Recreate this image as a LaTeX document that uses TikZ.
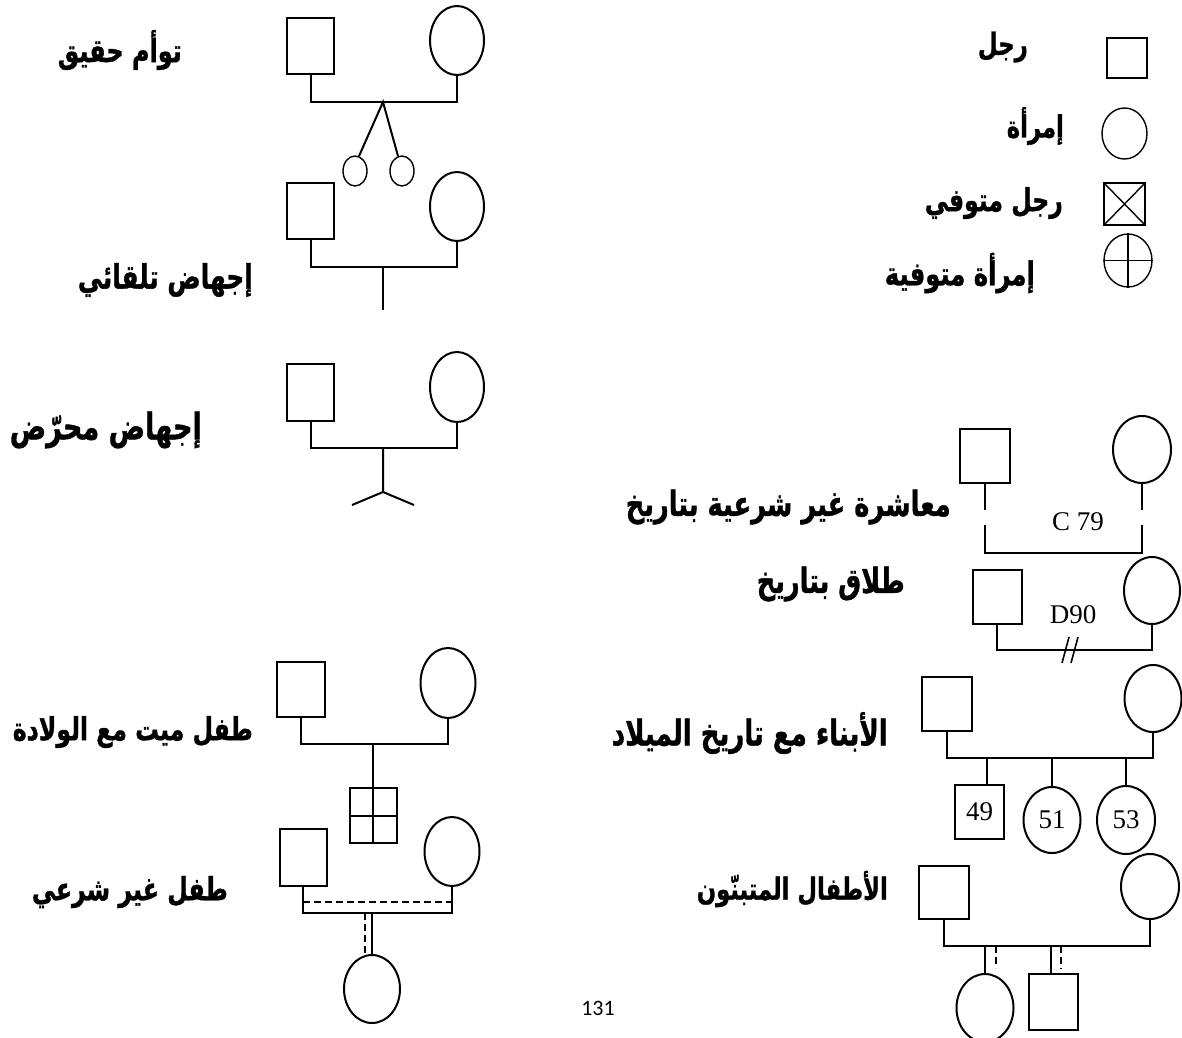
\documentclass[tikz,border=0pt]{standalone}
\usepackage{graphicx}
\usepackage{fontspec}
\setmainfont{Liberation Serif}
\newfontfamily\arabicfont[Script=Arabic, BoldFeatures={FakeBold=1.2}]{DejaVu Sans}
\newfontfamily\pagefont{Carlito}
\TeXXeTstate=1
\usetikzlibrary{shapes.geometric}
\newcommand\lbl[2]{\scalebox{1}[1.35]{\resizebox{#1pt}{!}{#2}}}
\tikzset{
  man/.style={draw, rectangle, inner sep=0pt, line width=2pt},
  woman/.style={draw, ellipse, inner sep=0pt, line width=2pt},
  thin/.style={line width=1.4pt},
  rel/.style={line width=2pt},
  dsh/.style={line width=2pt, dash pattern=on 7pt off 4pt},
  lab/.style={inner sep=0pt, anchor=east, font=\arabicfont\bfseries\fontsize{26}{30}\selectfont},
  num/.style={font=\fontsize{27}{30}\selectfont},
}
\begin{document}
\begin{tikzpicture}[x=1pt,y=-1pt]
\useasboundingbox (0,0) rectangle (1182,1037);
\clip (0,0) rectangle (1182,1037);
% ---------- legend ----------
\node[man, thin, minimum width=40pt, minimum height=40pt] (L1) at (1127,58) {};
\node[woman, thin, minimum width=45pt, minimum height=51pt] (L2) at (1124.5,133.5) {};
\node[man, thin, minimum width=41pt, minimum height=42pt] (L3) at (1124.5,204) {};
\draw[thin] (L3.north west) -- (L3.south east) (L3.north east) -- (L3.south west);
\node[woman, thin, minimum width=48pt, minimum height=53pt] (L4) at (1128,260.5) {};
\draw[thin] (L4.north) -- (L4.south) (L4.west) -- (L4.east);
\node[lab] (tL1) at (1028,47) {\lbl{50}{\beginR رجل\endR}};
\node[lab] (tL2) at (1064,126) {\lbl{57}{\beginR إمرأة\endR}};
\node[lab] (tL3) at (1063,203) {\lbl{138}{\beginR رجل متوفي\endR}};
\node[lab] (tL4) at (1035,273) {\lbl{150}{\beginR إمرأة متوفية\endR}};
% ---------- twins ----------
\node[man, minimum width=47pt, minimum height=56pt] (m1) at (310.5,46) {};
\node[woman, minimum width=54pt, minimum height=69pt] (w1) at (457,40.5) {};
\node[woman, thin, minimum width=24pt, minimum height=30pt] (t1) at (355,171) {};
\node[woman, thin, minimum width=24pt, minimum height=30pt] (t2) at (402,171) {};
\coordinate (j1) at (383,102);
\draw[rel] (m1.south) |- (j1) -| (w1.south);
\draw[rel] (t1.75) -- (j1) -- (t2.105);
\node[lab] (tx1) at (182,50) {\lbl{124}{\beginR توأم حقيق\endR}};
% ---------- spontaneous abortion ----------
\node[man, minimum width=47pt, minimum height=56pt] (m2) at (310.5,211) {};
\node[woman, minimum width=54pt, minimum height=69pt] (w2) at (457,206.5) {};
\coordinate (j2) at (383,267);
\coordinate (e2) at (383,310);
\draw[rel] (m2.south) |- (j2) -| (w2.south);
\draw[rel] (j2) -- (e2);
\node[lab] (tx2) at (253,280) {\lbl{175}{\beginR إجهاض تلقائي\endR}};
% ---------- induced abortion ----------
\node[man, minimum width=47pt, minimum height=57pt] (m3) at (310.5,392.5) {};
\node[woman, minimum width=54pt, minimum height=70pt] (w3) at (457,387) {};
\coordinate (j3) at (383,448);
\coordinate (e3) at (383,492);
\coordinate (e3a) at (352,505);
\coordinate (e3b) at (414,505);
\draw[rel] (m3.south) |- (j3) -| (w3.south);
\draw[rel] (j3) -- (e3) (e3a) -- (e3) -- (e3b);
\node[lab] (tx3) at (202,430) {\lbl{192}{\beginR إجهاض محرّض\endR}};
% ---------- stillbirth ----------
\node[man, minimum width=48pt, minimum height=55pt] (m4) at (301,689.5) {};
\node[woman, minimum width=55pt, minimum height=70pt] (w4) at (448,683) {};
\node[man, minimum width=47pt, minimum height=55pt] (sb) at (373,815.5) {};
\draw[rel] (sb.north) -- (sb.south) (sb.west) -- (sb.east);
\coordinate (j4) at (373,744);
\draw[rel] (m4.south) |- (j4) -| (w4.south);
\draw[rel] (j4) -- (sb.north);
\node[lab] (tx4) at (253,732) {\lbl{240}{\beginR طفل ميت مع الولادة\endR}};
% ---------- illegitimate child ----------
\node[man, minimum width=47pt, minimum height=57pt] (m5) at (303,857.5) {};
\node[woman, minimum width=55pt, minimum height=69pt] (w5) at (452,851.5) {};
\node[woman, minimum width=56pt, minimum height=68pt] (c5) at (372,989) {};
\coordinate (j5) at (372,913);
\coordinate (d5a) at (303,902);
\coordinate (d5b) at (452,902);
\coordinate (d5c) at (365,913);
\coordinate (d5d) at (365,955);
\draw[rel] (m5.south) |- (j5) -| (w5.south);
\draw[dsh] (d5a) -- (d5b);
\draw[rel] (j5) -- (c5.north);
\draw[dsh] (d5c) -- (d5d);
\node[lab] (tx5) at (228,892) {\lbl{196}{\beginR طفل غير شرعي\endR}};
% ---------- cohabitation ----------
\node[man, minimum width=50pt, minimum height=54pt] (m6) at (985,456) {};
\node[woman, minimum width=58pt, minimum height=67pt] (w6) at (1142,449.5) {};
\coordinate (g6a) at (985,510);
\coordinate (g6b) at (985,525);
\coordinate (g6c) at (1142,510);
\coordinate (g6d) at (1142,525);
\coordinate (j6) at (1063,553);
\draw[rel] (m6.south) -- (g6a);
\draw[rel] (w6.south) -- (g6c);
\draw[rel] (g6b) |- (j6) -| (g6d);
\node[num] (tc) at (1078,522) {C 79};
\node[lab] (tx6) at (951,507) {\lbl{325}{\beginR معاشرة غير شرعية بتاريخ\endR}};
% ---------- divorce ----------
\node[man, minimum width=49pt, minimum height=54pt] (m7) at (997,597) {};
\node[woman, minimum width=56pt, minimum height=67pt] (w7) at (1152,590.5) {};
\coordinate (j7) at (1070,650);
\coordinate (s1a) at (1062,663);
\coordinate (s1b) at (1069,637);
\coordinate (s2a) at (1071,663);
\coordinate (s2b) at (1078,637);
\draw[rel] (m7.south) |- (j7) -| (w7.south);
\draw[line width=1.6pt] (s1a) -- (s1b) (s2a) -- (s2b);
\node[num] (td) at (1073,615) {D90};
\node[lab] (tx7) at (905,584) {\lbl{148}{\beginR طلاق بتاريخ\endR}};
% ---------- children with birth dates ----------
\node[man, minimum width=50pt, minimum height=54pt] (m8) at (947,704) {};
\node[woman, minimum width=57pt, minimum height=67pt] (w8) at (1153,698.5) {};
\node[man, minimum width=49pt, minimum height=54pt, num] (k1) at (979.5,812) {49};
\node[woman, minimum width=57pt, minimum height=66pt, num] (k2) at (1052,820) {51};
\node[woman, minimum width=58pt, minimum height=68pt, num] (k3) at (1126,820) {53};
\coordinate (j8) at (1050,758);
\coordinate (x8) at (987,758);
\draw[rel] (m8.south) |- (j8) -| (w8.south);
\draw[rel] (x8) -- (k1.north -| x8);
\draw[rel] (k2.north |- j8) -- (k2.north);
\draw[rel] (k3.north |- j8) -- (k3.north);
\node[lab] (tx8) at (888,733) {\lbl{276}{\beginR الأبناء مع تاريخ الميلاد\endR}};
% ---------- adopted children ----------
\node[man, minimum width=50pt, minimum height=53pt] (m9) at (944,892.5) {};
\node[woman, minimum width=58pt, minimum height=65pt] (w9) at (1150,886.5) {};
\node[woman, minimum width=57pt, minimum height=68pt] (a1) at (985,1008) {};
\node[man, minimum width=49pt, minimum height=56pt] (a2) at (1053.5,1002) {};
\coordinate (j9) at (1050,946);
\coordinate (x9a) at (1051,946);
\coordinate (d9a) at (996,946);
\coordinate (d9b) at (996,968);
\coordinate (d9c) at (1061,946);
\coordinate (d9d) at (1061,969);
\draw[rel] (m9.south) |- (j9) -| (w9.south);
\draw[rel] (a1.north |- j9) -- (a1.north);
\draw[rel] (x9a) -- (a2.north -| x9a);
\draw[dsh] (d9a) -- (d9b) (d9c) -- (d9d);
\node[lab] (tx9) at (888,889) {\lbl{191}{\beginR الأطفال المتبنّون\endR}};
% ---------- page number ----------
\node[inner sep=0pt, font=\pagefont\fontsize{22}{24}\selectfont] (pg) at (598,1008) {131};
\end{tikzpicture}
\end{document}
